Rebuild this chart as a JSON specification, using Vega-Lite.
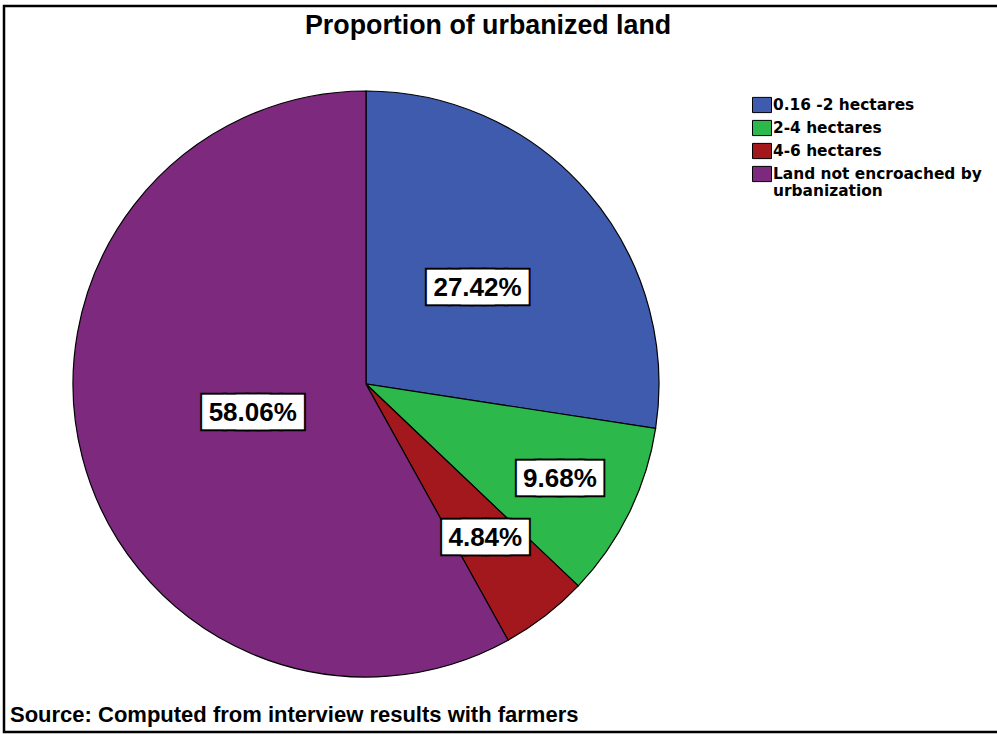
{
  "$schema": "https://vega.github.io/schema/vega-lite/v6.json",
  "width": 997,
  "height": 734,
  "autosize": {"type": "fit", "contains": "padding"},
  "padding": {"left": 4, "top": 6, "right": -4, "bottom": 2},
  "background": "white",
  "view": {"stroke": "black", "strokeWidth": 2.5, "fill": null},
  "title": {
    "text": "Proportion of urbanized land",
    "font": "Liberation Sans",
    "fontSize": 26.8,
    "fontWeight": "bold",
    "color": "black",
    "anchor": "start",
    "orient": "top",
    "offset": -34,
    "dx": 301
  },
  "config": {
    "legend": {"padding": 0}
  },
  "data": {
    "values": [
      {"category": "0.16 -2 hectares", "pct": 27.42, "label": "27.42%", "order": 1},
      {"category": "2-4 hectares", "pct": 9.68, "label": "9.68%", "order": 2},
      {"category": "4-6 hectares", "pct": 4.84, "label": "4.84%", "order": 3},
      {"category": "Land not encroached by urbanization", "pct": 58.06, "label": "58.06%", "order": 4}
    ]
  },
  "encoding": {
    "theta": {"field": "pct", "type": "quantitative", "stack": true},
    "order": {"field": "order", "type": "ordinal"}
  },
  "layer": [
    {
      "mark": {"type": "arc", "radius": 293, "x": 362, "y": 378, "stroke": "black", "strokeWidth": 1.2},
      "encoding": {
        "color": {
          "field": "category",
          "type": "nominal",
          "scale": {
            "domain": ["0.16 -2 hectares", "2-4 hectares", "4-6 hectares", "Land not encroached by urbanization"],
            "range": ["#3F5BAE", "#2DB84B", "#A3181C", "#7D2A7E"]
          },
          "legend": {
            "title": null,
            "orient": "none",
            "legendX": 748,
            "legendY": 89,
            "labelFont": "DejaVu Sans",
            "labelFontSize": 15.4,
            "labelFontWeight": "bold",
            "labelColor": "black",
            "labelOffset": 1,
            "labelLimit": 400,
            "symbolType": "M-1,-0.8H1V0.8H-1Z",
            "symbolSize": 361,
            "symbolStrokeColor": "black",
            "symbolStrokeWidth": 1,
            "symbolOpacity": 1,
            "rowPadding": 3,
            "labelExpr": "datum.label == 'Land not encroached by urbanization' ? ['Land not encroached by', 'urbanization'] : datum.label"
          }
        }
      }
    },
    {
      "mark": {"type": "text", "x": 362, "y": 378, "text": "███", "font": "DejaVu Sans", "fontSize": 29, "align": "left", "baseline": "middle", "dx": -50.5, "fill": "black", "stroke": "black", "strokeWidth": 4},
      "encoding": {
        "radius": {"field": "pct", "type": "quantitative", "scale": {"type": "linear", "domain": [4.84, 9.68, 27.42, 58.06], "range": [195, 216, 147, 117], "zero": false}},
        "opacity": {"condition": {"test": "datum.pct > 10", "value": 1}, "value": 0}
      }
    },
    {
      "mark": {"type": "text", "x": 362, "y": 378, "text": "███", "font": "DejaVu Sans", "fontSize": 29, "align": "right", "baseline": "middle", "dx": 50.5, "fill": "black", "stroke": "black", "strokeWidth": 4},
      "encoding": {
        "radius": {"field": "pct", "type": "quantitative"},
        "opacity": {"condition": {"test": "datum.pct > 10", "value": 1}, "value": 0}
      }
    },
    {
      "mark": {"type": "text", "x": 362, "y": 378, "text": "███", "font": "DejaVu Sans", "fontSize": 29, "align": "left", "baseline": "middle", "dx": -43, "fill": "black", "stroke": "black", "strokeWidth": 4},
      "encoding": {
        "radius": {"field": "pct", "type": "quantitative"},
        "opacity": {"condition": {"test": "datum.pct < 10", "value": 1}, "value": 0}
      }
    },
    {
      "mark": {"type": "text", "x": 362, "y": 378, "text": "███", "font": "DejaVu Sans", "fontSize": 29, "align": "right", "baseline": "middle", "dx": 43, "fill": "black", "stroke": "black", "strokeWidth": 4},
      "encoding": {
        "radius": {"field": "pct", "type": "quantitative"},
        "opacity": {"condition": {"test": "datum.pct < 10", "value": 1}, "value": 0}
      }
    },
    {
      "mark": {"type": "text", "x": 362, "y": 378, "text": "███", "font": "DejaVu Sans", "fontSize": 29, "align": "left", "baseline": "middle", "dx": -50.5, "fill": "white"},
      "encoding": {
        "radius": {"field": "pct", "type": "quantitative"},
        "opacity": {"condition": {"test": "datum.pct > 10", "value": 1}, "value": 0}
      }
    },
    {
      "mark": {"type": "text", "x": 362, "y": 378, "text": "███", "font": "DejaVu Sans", "fontSize": 29, "align": "right", "baseline": "middle", "dx": 50.5, "fill": "white"},
      "encoding": {
        "radius": {"field": "pct", "type": "quantitative"},
        "opacity": {"condition": {"test": "datum.pct > 10", "value": 1}, "value": 0}
      }
    },
    {
      "mark": {"type": "text", "x": 362, "y": 378, "text": "███", "font": "DejaVu Sans", "fontSize": 29, "align": "left", "baseline": "middle", "dx": -43, "fill": "white"},
      "encoding": {
        "radius": {"field": "pct", "type": "quantitative"},
        "opacity": {"condition": {"test": "datum.pct < 10", "value": 1}, "value": 0}
      }
    },
    {
      "mark": {"type": "text", "x": 362, "y": 378, "text": "███", "font": "DejaVu Sans", "fontSize": 29, "align": "right", "baseline": "middle", "dx": 43, "fill": "white"},
      "encoding": {
        "radius": {"field": "pct", "type": "quantitative"},
        "opacity": {"condition": {"test": "datum.pct < 10", "value": 1}, "value": 0}
      }
    },
    {
      "mark": {"type": "text", "x": 362, "y": 378, "font": "Liberation Sans", "fontSize": 26, "fontWeight": "bold", "align": "center", "baseline": "middle", "fill": "black"},
      "encoding": {
        "radius": {"field": "pct", "type": "quantitative"},
        "text": {"field": "label", "type": "nominal"}
      }
    },
    {
      "data": {"values": [{"note": "Source: Computed from interview results with farmers"}]},
      "mark": {"type": "text", "x": 6, "y": 716, "font": "Liberation Sans", "fontSize": 22, "fontWeight": "bold", "align": "left", "baseline": "alphabetic", "fill": "black"},
      "encoding": {
        "theta": null,
        "order": null,
        "text": {"field": "note", "type": "nominal"}
      }
    }
  ]
}
